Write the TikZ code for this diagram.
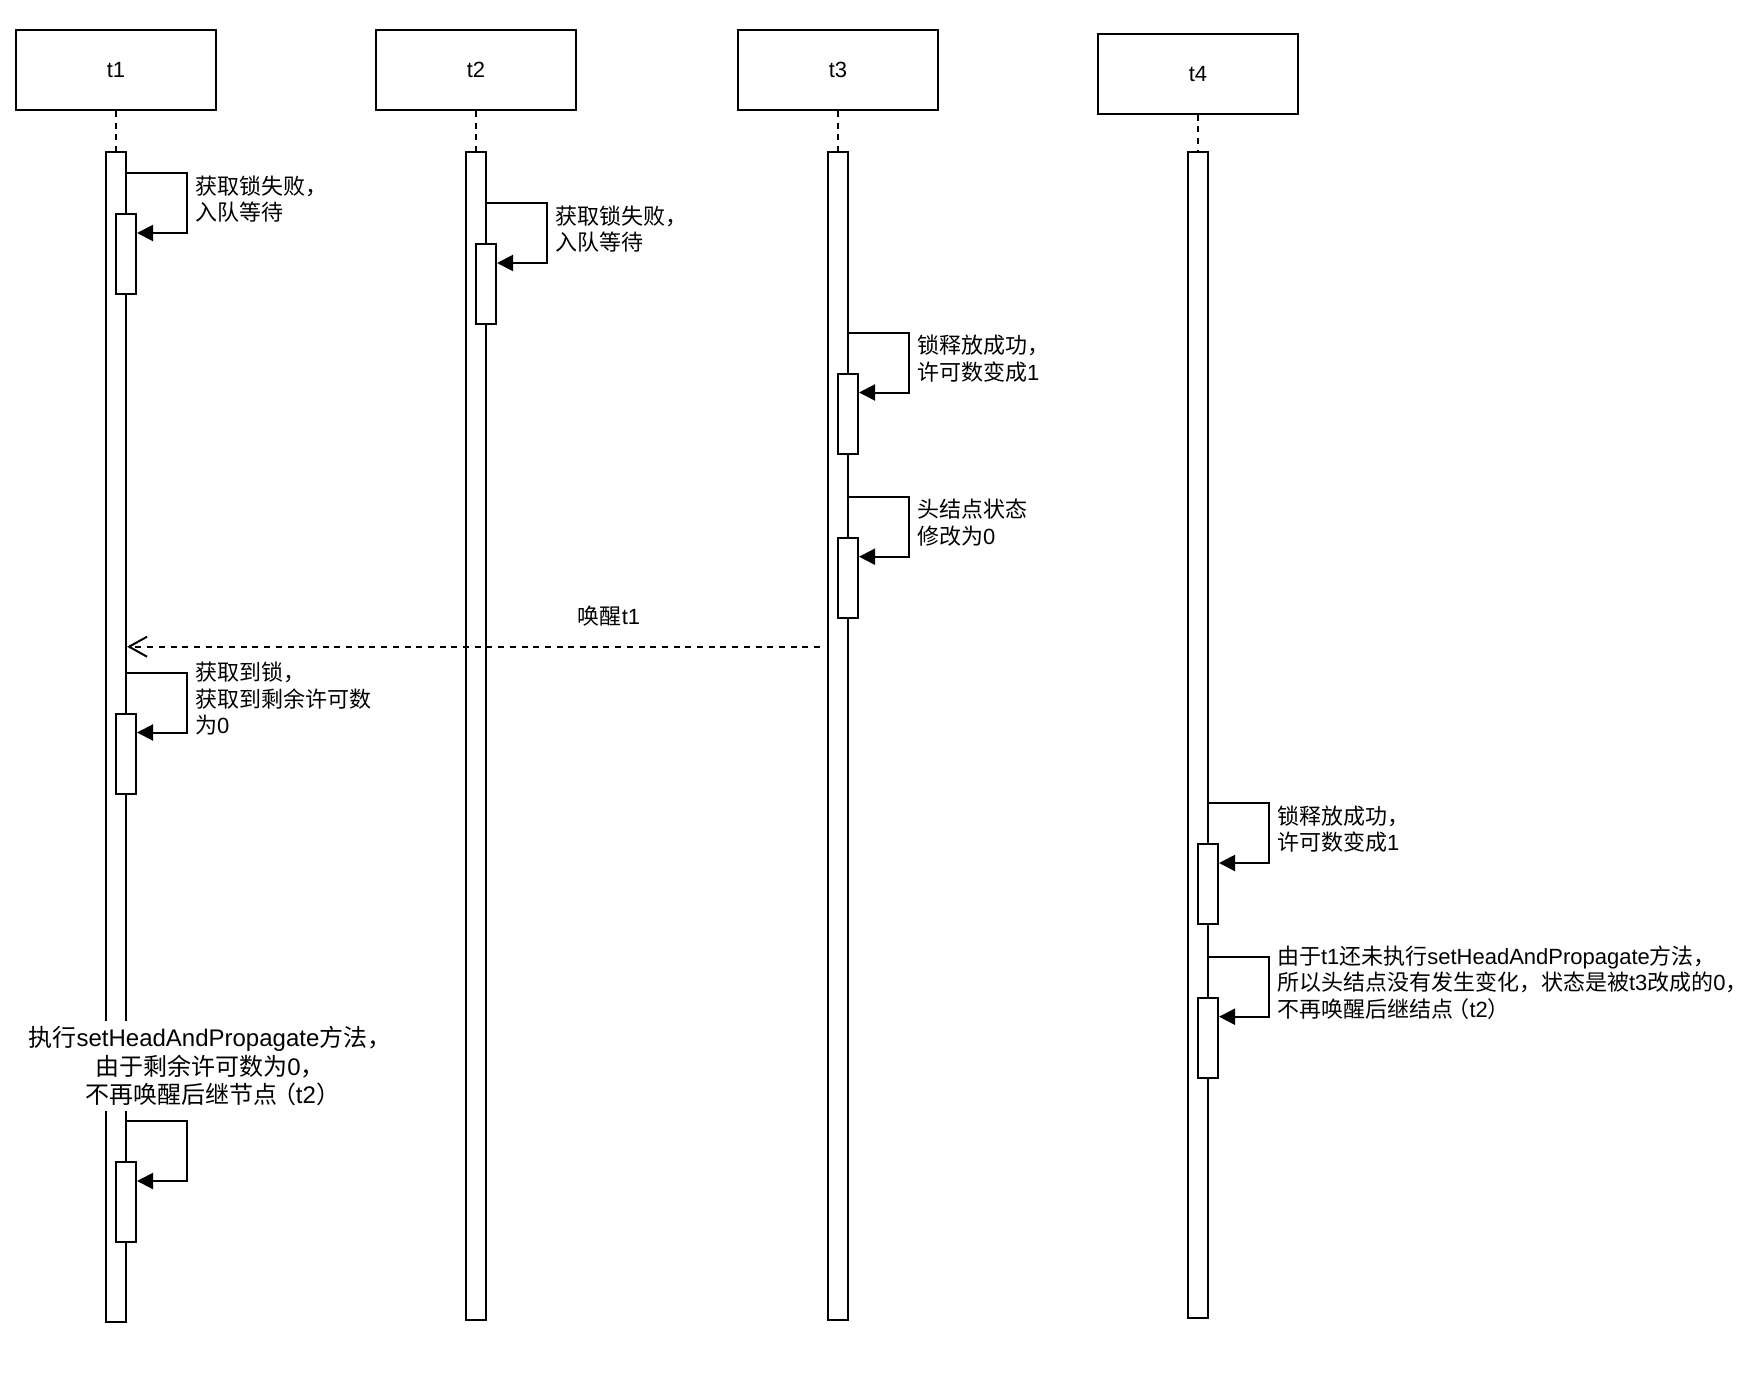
\documentclass[tikz,border=0pt]{standalone}
\usepackage{fontspec}
\setmainfont{Liberation Sans}
\newfontfamily\cjk{Noto Sans CJK SC}
\usetikzlibrary{arrows.meta,calc}
\newcommand\zh[1]{{\cjk #1}}
\newcommand\lpar{\kern-.25em\zh{（}}
\newcommand\rpar{\zh{）}\kern-.25em}
\begin{document}
\begin{tikzpicture}[x=1pt,y=-1pt,line width=2pt,
  hdr/.style={draw,minimum width=200pt,minimum height=80pt,inner sep=0pt,font=\fontsize{22}{26.5}\selectfont},
  lifebar/.style={draw,fill=white,minimum width=20pt,inner sep=0pt},
  act/.style={draw,fill=white,minimum width=20pt,minimum height=80pt,inner sep=0pt},
  lbl/.style={inner sep=0pt,align=left,anchor=west,font=\fontsize{22}{26.5}\selectfont},
  biglbl/.style={fill=white,align=center,inner xsep=2pt,inner ysep=5pt,font=\fontsize{24}{28.8}\selectfont},
  selfmsg/.style={-{Triangle[length=16pt,width=16pt]}},
  msg/.style={dash pattern=on 6pt off 5.7pt,-{Straight Barb[length=18pt,width=20pt]}},
  lifedash/.style={dash pattern=on 6pt off 5.7pt}]
\useasboundingbox (0,0) rectangle (1753,1378);

% headers
\node[hdr] (t1) at (116,70) {t1};
\node[hdr] (t2) at (476,70) {t2};
\node[hdr] (t3) at (838,70) {t3};
\node[hdr] (t4) at (1198,73.7) {t4};

% lifeline bars
\node[lifebar,minimum height=1170pt] (b1) at (116,737) {};
\node[lifebar,minimum height=1168pt] (b2) at (476,736) {};
\node[lifebar,minimum height=1168pt] (b3) at (838,736) {};
\node[lifebar,minimum height=1166pt] (b4) at (1198,735) {};

\draw[lifedash] (t1.south) -- (b1.north);
\draw[lifedash] (t2.south) -- (b2.north);
\draw[lifedash] (t3.south) -- (b3.north);
\draw[lifedash] (t4.south) -- (b4.north);

% activations
\node[act] (a11) at (126,254) {};
\node[act] (a12) at (126,753.5) {};
\node[act] (a13) at (126,1202) {};
\node[act] (a21) at (486,284) {};
\node[act] (a31) at (848,413.5) {};
\node[act] (a32) at (848,577.7) {};
\node[act] (a41) at (1208,884) {};
\node[act] (a42) at (1208,1037.7) {};

% self messages
\draw[selfmsg] ($(a11.north -| b1.east)+(0,-40)$) -- ++(60,0) |- ($(a11.north east)+(0,20)$);
\draw[selfmsg] ($(a12.north -| b1.east)+(0,-40)$) -- ++(60,0) |- ($(a12.north east)+(0,20)$);
\draw[selfmsg] ($(a13.north -| b1.east)+(0,-40)$) -- ++(60,0) |- ($(a13.north east)+(0,20)$);
\draw[selfmsg] ($(a21.north -| b2.east)+(0,-40)$) -- ++(60,0) |- ($(a21.north east)+(0,20)$);
\draw[selfmsg] ($(a31.north -| b3.east)+(0,-40)$) -- ++(60,0) |- ($(a31.north east)+(0,20)$);
\draw[selfmsg] ($(a32.north -| b3.east)+(0,-40)$) -- ++(60,0) |- ($(a32.north east)+(0,20)$);
\draw[selfmsg] ($(a41.north -| b4.east)+(0,-40)$) -- ++(60,0) |- ($(a41.north east)+(0,20)$);
\draw[selfmsg] ($(a42.north -| b4.east)+(0,-40)$) -- ++(60,0) |- ($(a42.north east)+(0,20)$);

% labels of self messages
\node[lbl] (l11) at ($(a11.north -| b1.east)+(67,-14)$) {\zh{获取锁失败，}\\\zh{入队等待}};
\node[lbl] (l21) at ($(a21.north -| b2.east)+(67,-14)$) {\zh{获取锁失败，}\\\zh{入队等待}};
\node[lbl] (l31) at ($(a31.north -| b3.east)+(67,-14)$) {\zh{锁释放成功，}\\\zh{许可数变成}1};
\node[lbl] (l32) at ($(a32.north -| b3.east)+(67,-14)$) {\zh{头结点状态}\\\zh{修改为}0};
\node[lbl] (l12) at ($(a12.north -| b1.east)+(67,-14)$) {\zh{获取到锁，}\\\zh{获取到剩余许可数}\\\zh{为}0};
\node[lbl] (l41) at ($(a41.north -| b4.east)+(67,-14)$) {\zh{锁释放成功，}\\\zh{许可数变成}1};
\node[lbl] (l42) at ($(a42.north -| b4.east)+(67,-14)$) {\zh{由于}t1\zh{还未执行}setHeadAndPropagate\zh{方法，}\\\zh{所以头结点没有发生变化，状态是被}t3\zh{改成的}0\zh{，}\\\zh{不再唤醒后继结点}\lpar t2\rpar};

% wake-up message
\coordinate (ms) at (820,646.7);
\draw[msg] (ms) -- (b1.east |- ms);
\node[font=\fontsize{22}{26.5}\selectfont,inner sep=0pt] (wl) at (609,615.7) {\zh{唤醒}t1};

% bottom label on t1
\node[biglbl] (lb) at (210,1066) {\zh{执行}setHeadAndPropagate\zh{方法，}\\\zh{由于剩余许可数为}0\zh{，}\\\zh{不再唤醒后继节点}\lpar t2\rpar};
\end{tikzpicture}
\end{document}
